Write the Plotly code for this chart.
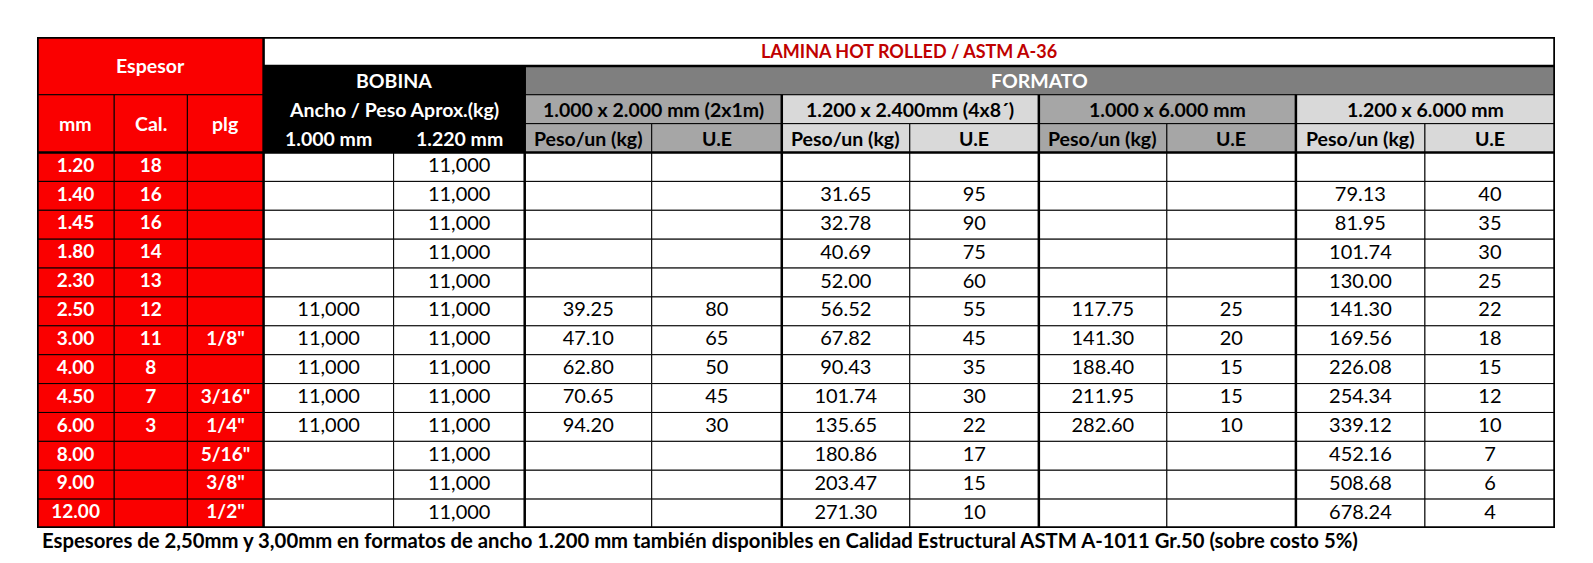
import numpy as np
import plotly.graph_objects as go

# ---- data -------------------------------------------------------------
espesor_mm = ["1.20", "1.40", "1.45", "1.80", "2.30", "2.50", "3.00",
              "4.00", "4.50", "6.00", "8.00", "9.00", "12.00"]
calibre = ["18", "16", "16", "14", "13", "12", "11", "8", "7", "3", "", "", ""]
pulgadas = ["", "", "", "", "", "", '1/8"', "", '3/16"', '1/4"', '5/16"', '3/8"', '1/2"']

bobina_1000 = ["", "", "", "", "", "11,000", "11,000", "11,000", "11,000", "11,000", "", "", ""]
bobina_1220 = ["11,000"] * 13

f1_peso = ["", "", "", "", "", "39.25", "47.10", "62.80", "70.65", "94.20", "", "", ""]
f1_ue = ["", "", "", "", "", "80", "65", "50", "45", "30", "", "", ""]
f2_peso = ["", "31.65", "32.78", "40.69", "52.00", "56.52", "67.82", "90.43",
           "101.74", "135.65", "180.86", "203.47", "271.30"]
f2_ue = ["", "95", "90", "75", "60", "55", "45", "35", "30", "22", "17", "15", "10"]
f3_peso = ["", "", "", "", "", "117.75", "141.30", "188.40", "211.95", "282.60", "", "", ""]
f3_ue = ["", "", "", "", "", "25", "20", "15", "15", "10", "", "", ""]
f4_peso = ["", "79.13", "81.95", "101.74", "130.00", "141.30", "169.56", "226.08",
           "254.34", "339.12", "452.16", "508.68", "678.24"]
f4_ue = ["", "40", "35", "30", "25", "22", "18", "15", "12", "10", "7", "6", "4"]

formatos = ["1.000 x 2.000 mm (2x1m)", "1.200 x 2.400mm (4x8´)",
            "1.000 x 6.000 mm", "1.200 x 6.000 mm"]
titulo = "LAMINA HOT ROLLED / ASTM A-36"
nota = ("Espesores de 2,50mm y 3,00mm en formatos de ancho 1.200 mm también disponibles "
        "en Calidad Estructural ASTM A-1011 Gr.50 (sobre costo 5%)")

columnas = [espesor_mm, calibre, pulgadas, bobina_1000, bobina_1220,
            f1_peso, f1_ue, f2_peso, f2_ue, f3_peso, f3_ue, f4_peso, f4_ue]

# ---- layout helpers ---------------------------------------------------
COL_W = [76, 72, 75, 128, 129, 125, 128, 126, 127, 126, 127, 127, 128]
edges = np.concatenate([[0], np.cumsum(COL_W)])
centers = (edges[:-1] + edges[1:]) / 2
N_HEAD = 4
N_ROWS = N_HEAD + len(espesor_mm)

FONT = "Lato"
RED = "#FA0000"
DARK_GRAY = "#7F7F7F"
MID_GRAY = "#A6A6A6"
LIGHT_GRAY = "#D9D9D9"
HEAD_SIZE = 19.5

fig = go.Figure()


def cell(c0, c1, r0, r1, fill, line="#000000", lw=1):
    fig.add_shape(type="rect", x0=edges[c0], x1=edges[c1 + 1], y0=r0, y1=r1 + 1,
                  fillcolor=fill, line=dict(color=line, width=lw), layer="below")


def label(c0, c1, r, text, color="#000000", size=HEAD_SIZE, bold=True):
    fig.add_annotation(x=(edges[c0] + edges[c1 + 1]) / 2, y=r + 0.5,
                       text=f"<b>{text}</b>" if bold else text,
                       showarrow=False, xanchor="center", yanchor="middle",
                       font=dict(family=FONT, size=size, color=color))


# header
cell(0, 2, 0, 1, RED)
label(0, 2, 0.5, "Espesor", "white")
cell(3, 12, 0, 0, "white")
label(3, 12, 0, titulo, "#C00000", 18)
cell(3, 4, 1, 3, "black")
label(3, 4, 1, "BOBINA", "white")
label(3, 4, 2, "Ancho / Peso Aprox.(kg)", "white")
label(3, 3, 3, "1.000 mm", "white")
label(4, 4, 3, "1.220 mm", "white")
cell(5, 12, 1, 1, DARK_GRAY)
label(5, 12, 1, "FORMATO", "white")
for c, name in enumerate(["mm", "Cal.", "plg"]):
    cell(c, c, 2, 3, RED)
    label(c, c, 2.5, name, "white")
for i, f in enumerate(formatos):
    c = 5 + 2 * i
    fill = MID_GRAY if i % 2 == 0 else LIGHT_GRAY
    cell(c, c + 1, 2, 2, fill)
    label(c, c + 1, 2, f)
    cell(c, c, 3, 3, fill)
    label(c, c, 3, "Peso/un (kg)")
    cell(c + 1, c + 1, 3, 3, fill)
    label(c + 1, c + 1, 3, "U.E")

# body cells
for r in range(len(espesor_mm)):
    for c in range(len(COL_W)):
        cell(c, c, N_HEAD + r, N_HEAD + r, RED if c < 3 else "white")

# body text
rows_y = np.arange(len(espesor_mm)) + N_HEAD + 0.5
for c, vals in enumerate(columnas):
    red = c < 3
    fig.add_trace(go.Scatter(
        x=[centers[c]] * len(vals), y=rows_y,
        text=[f"<b>{v}</b>" if red else v for v in vals],
        mode="text", textposition="middle center", hoverinfo="skip", showlegend=False,
        textfont=dict(family=FONT, size=19 if red else 20, color="white" if red else "black")))


# heavier rules
def vline(x, r0, r1, lw=2.5):
    fig.add_shape(type="line", x0=x, x1=x, y0=r0, y1=r1, line=dict(color="black", width=lw))


def hline(y, c0, c1, lw=2.5):
    fig.add_shape(type="line", x0=edges[c0], x1=edges[c1], y0=y, y1=y,
                  line=dict(color="black", width=lw))


vline(edges[3], 0, N_ROWS)
vline(edges[5], 1, N_ROWS)
for c in (7, 9, 11):
    vline(edges[c], 2, N_ROWS)
hline(1, 3, 13)
hline(N_HEAD, 0, 13)
fig.add_shape(type="rect", x0=0, x1=edges[-1], y0=0, y1=N_ROWS,
              line=dict(color="black", width=3.5))

fig.add_annotation(x=3, y=-0.024, xref="x", yref="paper", text=f"<b>{nota}</b>",
                   showarrow=False, xanchor="left", yanchor="middle",
                   font=dict(family=FONT, size=20.3, color="black"))

fig.update_xaxes(range=[0, edges[-1]], visible=False, fixedrange=True)
fig.update_yaxes(range=[N_ROWS, 0], visible=False, fixedrange=True)
fig.update_layout(width=1577, height=547, autosize=False,
                  margin=dict(l=29, r=30, t=29, b=27),
                  plot_bgcolor="white", paper_bgcolor="white")

fig.write_html("out.html")
